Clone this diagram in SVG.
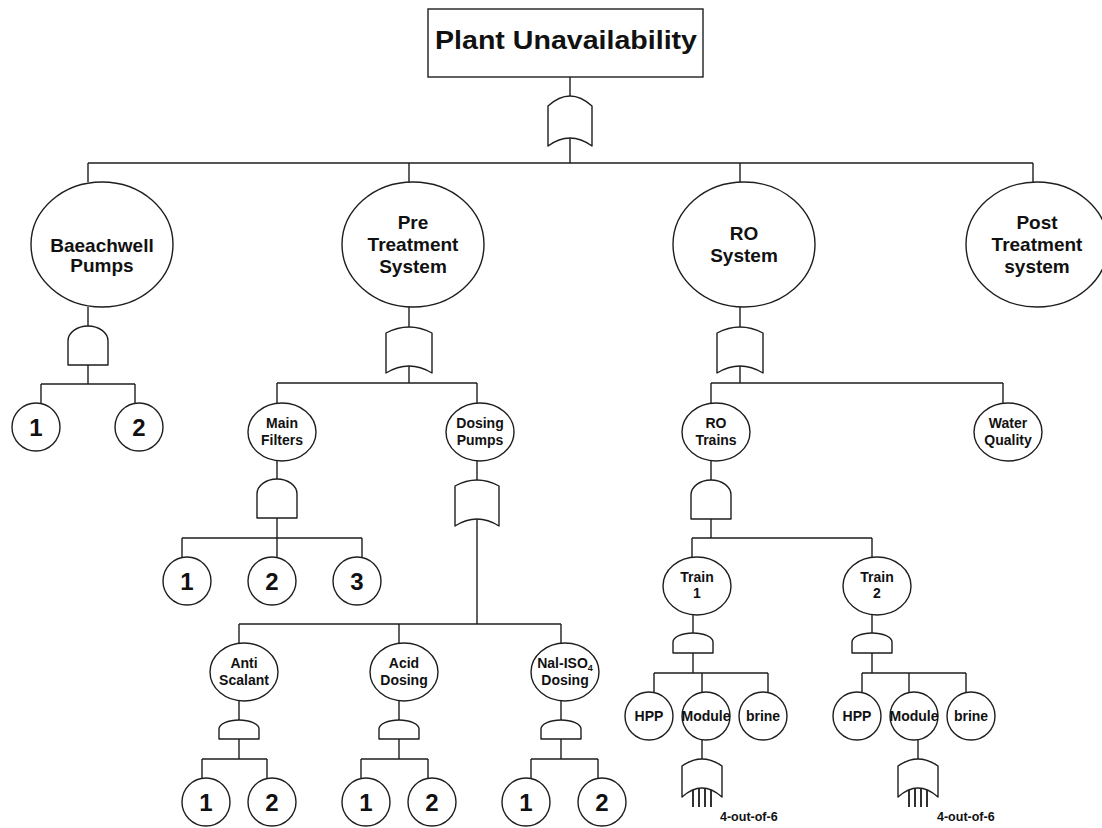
<svg xmlns="http://www.w3.org/2000/svg" width="1102" height="828" viewBox="0 0 1102 828">
<style>
.ln{stroke:#1e1e1e;stroke-width:1.4;fill:none}
.nd{fill:#fff;stroke:#1e1e1e;stroke-width:1.4}
.gt{fill:#fff;stroke:#1e1e1e;stroke-width:1.4;stroke-linejoin:round}
text{font-family:"Liberation Sans",Arial,sans-serif;font-weight:bold;fill:#111;text-anchor:middle}
.t0{font-size:25px}
.t1{font-size:19px}
.t2{font-size:14px}
.t3{font-size:24px}
.t4{font-size:12.5px;text-anchor:start}
</style>
<rect width="1102" height="828" fill="#fff"/>
<g id="connectors" class="ln">
<path d="M570,77V96M570,138V163M88,163H1033M88,163V182M409,163V182M740,163V182M1033,163V182"/>
<path d="M88,307V326M88,365V384M41,384H135M41,384V403M135,384V403"/>
<path d="M409,307V327M409,366V383M277,383H477M277,383V403M477,383V403"/>
<path d="M740,307V327M740,366V383M711,383H1003M711,383V403M1003,383V403"/>
<path d="M277,461V479M277,518V538M182,538H362M182,538V557M277,538V557M362,538V557"/>
<path d="M477,461V480M477,519V624M239,624H561M239,624V643M399,624V643M561,624V643"/>
<path d="M239,701V720M239,739V759M202,759H267M202,759V778M267,759V778"/>
<path d="M399,701V720M399,739V759M361,759H428M361,759V778M428,759V778"/>
<path d="M561,701V720M561,739V759M531,759H598M531,759V778M598,759V778"/>
<path d="M711,461V480M711,519V538M692,538H872M692,538V557M872,538V557"/>
<path d="M693,615V633M693,653V673M654,673H768M654,673V692M702,673V692M768,673V692"/>
<path d="M872,615V633M872,653V673M862,673H966M862,673V692M909,673V692M966,673V692"/>
<path d="M702,740V759M918,740V759"/>
<path d="M693,790V807M699,789V807M705,789V807M711,790V807"/>
<path d="M909,790V807M915,789V807M921,789V807M927,790V807"/>
</g>
<g id="top">
<rect class="nd" x="428" y="9" width="275" height="68"/>
<text class="t0" x="566" y="49" textLength="262" lengthAdjust="spacingAndGlyphs">Plant Unavailability</text>
</g>
<g id="gate-top"><path class="gt" d="M548,146L548,106Q570,86 592,106L592,146Q570,130 548,146Z"/></g>
<g id="baeachwell">
<ellipse class="nd" cx="102" cy="244.5" rx="71" ry="62.5"/>
<text class="t1" x="102" y="252">Baeachwell</text>
<text class="t1" x="102" y="272">Pumps</text>
</g>
<g id="pre">
<ellipse class="nd" cx="413" cy="244.5" rx="71" ry="62.5"/>
<text class="t1" x="413" y="229">Pre</text>
<text class="t1" x="413" y="251">Treatment</text>
<text class="t1" x="413" y="273">System</text>
</g>
<g id="ro">
<ellipse class="nd" cx="744" cy="244.5" rx="71" ry="62.5"/>
<text class="t1" x="744" y="240">RO</text>
<text class="t1" x="744" y="262">System</text>
</g>
<g id="post">
<ellipse class="nd" cx="1037" cy="244.5" rx="71" ry="62.5"/>
<text class="t1" x="1037" y="229">Post</text>
<text class="t1" x="1037" y="251">Treatment</text>
<text class="t1" x="1037" y="273">system</text>
</g>
<g id="gate-baeachwell"><path class="gt" d="M68,365V341A20,15 0 0 1 108,341V365Z"/></g>
<g id="gate-pre"><path class="gt" d="M386,373L386,333Q409,321 432,333L432,373Q409,359 386,373Z"/></g>
<g id="gate-ro"><path class="gt" d="M717,373L717,333Q740,321 763,333L763,373Q740,359 717,373Z"/></g>
<g id="bw1"><circle class="nd" cx="36" cy="427" r="24"/><text class="t3" x="36" y="436">1</text></g>
<g id="bw2"><circle class="nd" cx="139" cy="427" r="24"/><text class="t3" x="139" y="436">2</text></g>
<g id="main-filters">
<ellipse class="nd" cx="282" cy="432" rx="34" ry="29"/>
<text class="t2" x="282" y="428">Main</text>
<text class="t2" x="282" y="445">Filters</text>
</g>
<g id="dosing-pumps">
<ellipse class="nd" cx="480" cy="432" rx="34" ry="29"/>
<text class="t2" x="480" y="428">Dosing</text>
<text class="t2" x="480" y="445">Pumps</text>
</g>
<g id="ro-trains">
<ellipse class="nd" cx="716" cy="432" rx="34" ry="29"/>
<text class="t2" x="716" y="428">RO</text>
<text class="t2" x="716" y="445">Trains</text>
</g>
<g id="water-quality">
<ellipse class="nd" cx="1008" cy="432" rx="34" ry="29"/>
<text class="t2" x="1008" y="428">Water</text>
<text class="t2" x="1008" y="445">Quality</text>
</g>
<g id="gate-mf"><path class="gt" d="M257,518V494A20,15 0 0 1 297,494V518Z"/></g>
<g id="gate-dp"><path class="gt" d="M455,526L455,486Q477,474 499,486L499,526Q477,512 455,526Z"/></g>
<g id="gate-rt"><path class="gt" d="M691,519V495A20,15 0 0 1 731,495V519Z"/></g>
<g id="mf1"><circle class="nd" cx="187" cy="581" r="24"/><text class="t3" x="187" y="590">1</text></g>
<g id="mf2"><circle class="nd" cx="272" cy="581" r="24"/><text class="t3" x="272" y="590">2</text></g>
<g id="mf3"><circle class="nd" cx="357" cy="581" r="24"/><text class="t3" x="357" y="590">3</text></g>
<g id="anti">
<ellipse class="nd" cx="244" cy="672" rx="34" ry="29"/>
<text class="t2" x="244" y="668">Anti</text>
<text class="t2" x="244" y="685">Scalant</text>
</g>
<g id="acid">
<ellipse class="nd" cx="404" cy="672" rx="34" ry="29"/>
<text class="t2" x="404" y="668">Acid</text>
<text class="t2" x="404" y="685">Dosing</text>
</g>
<g id="nai">
<ellipse class="nd" cx="565" cy="672" rx="34" ry="29"/>
<text class="t2" x="565" y="668">Nal-ISO<tspan font-size="9" dy="3">4</tspan></text>
<text class="t2" x="565" y="685">Dosing</text>
</g>
<g id="gate-anti"><path class="gt" d="M219,739V729A20,9 0 0 1 259,729V739Z"/></g>
<g id="gate-acid"><path class="gt" d="M379,739V729A20,9 0 0 1 419,729V739Z"/></g>
<g id="gate-nai"><path class="gt" d="M541,739V729A20,9 0 0 1 581,729V739Z"/></g>
<g id="as1"><circle class="nd" cx="206" cy="802" r="24"/><text class="t3" x="206" y="811">1</text></g>
<g id="as2"><circle class="nd" cx="272" cy="802" r="24"/><text class="t3" x="272" y="811">2</text></g>
<g id="ad1"><circle class="nd" cx="366" cy="802" r="24"/><text class="t3" x="366" y="811">1</text></g>
<g id="ad2"><circle class="nd" cx="432" cy="802" r="24"/><text class="t3" x="432" y="811">2</text></g>
<g id="nd1"><circle class="nd" cx="526" cy="802" r="24"/><text class="t3" x="526" y="811">1</text></g>
<g id="nd2"><circle class="nd" cx="602" cy="802" r="24"/><text class="t3" x="602" y="811">2</text></g>
<g id="train1">
<ellipse class="nd" cx="697" cy="586" rx="34" ry="29"/>
<text class="t2" x="697" y="582">Train</text>
<text class="t2" x="697" y="598">1</text>
</g>
<g id="train2">
<ellipse class="nd" cx="877" cy="586" rx="34" ry="29"/>
<text class="t2" x="877" y="582">Train</text>
<text class="t2" x="877" y="598">2</text>
</g>
<g id="gate-t1"><path class="gt" d="M673,653V642A20,9 0 0 1 713,642V653Z"/></g>
<g id="gate-t2"><path class="gt" d="M852,653V642A20,9 0 0 1 892,642V653Z"/></g>
<g id="hpp1"><circle class="nd" cx="649" cy="716" r="24"/><text class="t2" x="649" y="721">HPP</text></g>
<g id="module1"><circle class="nd" cx="706" cy="716" r="24"/><text class="t2" x="706" y="721">Module</text></g>
<g id="brine1"><circle class="nd" cx="763" cy="716" r="24"/><text class="t2" x="763" y="721">brine</text></g>
<g id="hpp2"><circle class="nd" cx="857" cy="716" r="24"/><text class="t2" x="857" y="721">HPP</text></g>
<g id="module2"><circle class="nd" cx="914" cy="716" r="24"/><text class="t2" x="914" y="721">Module</text></g>
<g id="brine2"><circle class="nd" cx="971" cy="716" r="24"/><text class="t2" x="971" y="721">brine</text></g>
<g id="gate-m1"><path class="gt" d="M682,797L682,766Q702,752 722,766L722,797Q702,779 682,797Z"/></g>
<g id="gate-m2"><path class="gt" d="M898,797L898,766Q918,752 938,766L938,797Q918,779 898,797Z"/></g>
<g id="vote1"><path class="ln" d="M693,790V807M699,789V807M705,789V807M711,790V807"/><text class="t4" x="720" y="821">4-out-of-6</text></g>
<g id="vote2"><path class="ln" d="M909,790V807M915,789V807M921,789V807M927,790V807"/><text class="t4" x="937" y="821">4-out-of-6</text></g>
</svg>
